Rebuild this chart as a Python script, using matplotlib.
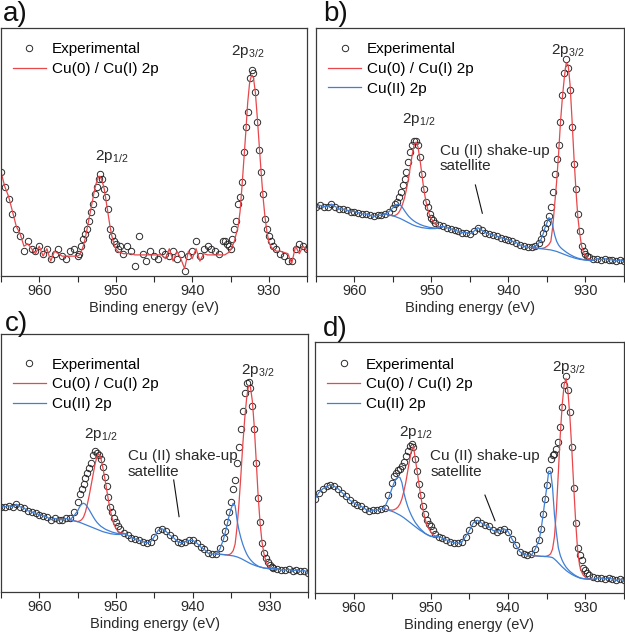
import numpy as np
import matplotlib
matplotlib.use('Agg')
import matplotlib.pyplot as plt
from matplotlib.ticker import MultipleLocator

plt.rcParams['font.family'] = ['Liberation Sans', 'DejaVu Sans']
plt.rcParams['mathtext.default'] = 'regular'

RED = '#e8474b'
BLUE = '#3f7fd6'
DARK = '#2a2a2a'

# binding energy grid (eV), finer steps across the two 2p peaks
energy = np.concatenate([np.arange(965, 954.9, -0.5), np.arange(954.75, 949.4, -0.25),
                         np.arange(949, 935.9, -0.5), np.arange(935.75, 929.4, -0.25),
                         np.arange(929, 924.9, -0.5)])
# regions where the Cu(II) / Cu(0) components are drawn (956-949 and 937-929 eV)
reg1 = (energy <= 956) & (energy >= 949)
reg2 = (energy <= 937) & (energy >= 929)

# ---- a) ----
a_exp = [42, 36, 31, 25, 19, 16, 10, 14, 11, 10, 12, 9, 11, 7, 9, 11, 8, 7, 10, 11, 8,
         9, 12, 15, 17, 19, 22, 26, 29, 33, 36, 39, 41, 39, 35, 32, 27, 19, 16, 14, 13, 11, 12,
         9, 12, 10, 4, 16, 9, 6, 10, 8, 7, 10, 9, 8, 10, 7, 9, 2, 8, 10, 14, 8, 11, 12, 11, 10, 9, 14,
         14, 13, 12, 11, 15, 19, 22, 29, 32, 38, 50, 60, 66, 80, 83, 82, 74, 62, 51, 42, 33, 23, 19, 16, 14, 12,
         11, 9, 8, 6, 6, 11, 13, 12, 11]
a_red = [42, 36, 32, 26, 20, 17, 12, 13, 11, 9, 12, 8, 11, 6, 10, 9, 8, 8, 8, 8, 8,
         8.5, 10, 12, 15, 19, 23, 27, 31, 35, 38, 40, 40, 38, 35, 30, 25, 20, 16, 13, 11, 10, 9.5,
         9, 9, 9, 8.5, 8.5, 8.5, 8.5, 8.5, 8.5, 8.5, 8.5, 7, 11, 6, 10, 7, 3, 10, 7, 11, 6, 9, 8.5, 8.5, 8.5, 8.5, 8.5,
         8.5, 9, 9.5, 10.5, 12, 14, 17, 20, 26, 36, 47, 58, 70, 78, 81, 80, 74, 64, 53, 42, 32, 24, 18, 14, 12, 11,
         10, 10, 9.5, 9, 5, 12, 9, 12, 10]

# ---- b) ----
b_exp = [28, 28.5, 28, 28, 29, 28, 27, 27, 26.5, 26, 26, 25.5, 25, 25, 24.5, 24, 24.5, 24.5, 25, 26, 27.5,
         29, 30, 32, 34, 36.5, 39, 42, 46, 50, 53, 54.5, 54.5, 53, 48, 41, 35, 30, 28, 25, 23.5, 22.5, 21.5,
         20.5, 20, 19.5, 19, 18.5, 18, 17.5, 17.5, 17, 18, 19.5, 18.5, 17.5, 17, 16.5, 16, 15.5, 15, 14.5, 14,
         13.5, 12.5, 12, 11.5, 11.5, 12, 13.5,
         15, 17.5, 19.5, 21.5, 24, 28, 34, 41, 47, 53, 62, 73, 82, 87.5, 84, 75, 60, 45, 35, 25, 18, 12, 10, 9, 8, 7.5,
         7, 7, 6.5, 7, 6.5, 6.5, 6, 6.5, 6]
b_cu2_1 = [25, 26, 27.5, 28.3, 28.8, 29, 28.5, 27.5, 26.3, 25.2, 24.2, 23.4, 22.7, 22.1, 21.6, 21.2, 20.8,
           20.5, 20.2, 20, 19.8, 19.6, 19.5, 19.4, 19.3, 19.8]
b_bg1 = [25, 24.6, 24.2, 24, 23.7, 23.4, 23.1, 22.7, 22.3, 21.9, 21.5, 21.1, 20.7, 20.4, 20.1, 19.9, 19.7,
         19.5, 19.4, 19.3, 19.2, 19.1, 19.1, 19.1, 19.1, 19.4]
b_red1 = [25, 24.6, 24.3, 24.4, 24.8, 25.6, 27, 29, 31.5, 35, 39, 44, 49, 53, 54, 52, 47, 41, 35, 30.5,
          27, 24.5, 23, 21.8, 20.8, 19.8]
b_cu2_2 = [11.5, 12, 13.5, 15, 17, 19.5, 21.5, 23.5, 23, 20, 16.5, 14, 12.5, 11.5, 10.8, 10.2, 9.6, 9.1,
           8.6, 8.2, 7.8, 7.5, 7.2, 7, 6.8, 6.6, 6.5, 6.4, 6.4, 6.3]
b_bg2 = [11.5, 11.3, 11.1, 11, 10.9, 10.8, 10.7, 10.6, 10.5, 10.3, 10.1, 9.9, 9.6, 9.3, 9, 8.7, 8.4, 8.1,
         7.8, 7.6, 7.3, 7.1, 6.9, 6.7, 6.6, 6.5, 6.4, 6.3, 6.3, 6.3]
b_red2 = [11.5, 11.3, 11.1, 11.1, 11.2, 11.5, 12, 12.7, 14, 20, 29, 38, 49, 62, 72, 80, 86, 85, 77, 63,
          48, 35, 24, 17, 12, 9.5, 8, 7.2, 6.8, 6.4]

# ---- c) ----
c_exp = [33, 33, 33.5, 33, 34, 33, 32.5, 31.5, 31, 30.5, 30, 29.5, 29, 28, 28.5, 28, 28, 28.5, 28.5, 31, 35,
         38, 40, 42, 44, 46, 48, 50, 53, 54.5, 54, 53, 51.5, 48.5, 44.7, 41, 37, 33, 31, 28.5, 27, 25.5, 24.5,
         22.7, 22, 21, 20.5, 20, 19.5, 19, 19.5, 21.5, 24, 24.5, 23.5, 22, 21, 19.5, 19, 19.5, 20, 20, 19,
         17.5, 16.5, 15, 14.7, 14.7, 17, 21,
         23.5, 27, 31, 35, 40, 43.5, 50, 56, 63, 70, 77, 81, 81.5, 79, 72, 63, 50, 36.5, 27, 19, 15, 13, 11.5,
         10.5, 9.8, 9.2,
         9, 8.5, 8.5, 8.8, 8.2, 8.5, 8, 8.3, 7.5]
c_cu2_1 = [28, 29.5, 31.5, 33, 34, 34.4, 34, 33, 31.8, 30.5, 29.2, 28, 27, 26.2, 25.5, 25, 24.5, 24.1,
           23.8, 23.5, 23.2, 23, 22.8, 22.7, 22.6, 22.7]
c_bg1 = [28, 27.6, 27.2, 27, 26.7, 26.4, 26.1, 25.8, 25.5, 25.2, 24.9, 24.6, 24.3, 24, 23.7, 23.4, 23.2,
         23, 22.8, 22.6, 22.5, 22.4, 22.3, 22.3, 22.3, 22.5]
c_red1 = [28, 27.6, 27.3, 27.5, 28, 29, 31, 34, 37.5, 41.5, 45.5, 49.5, 52.5, 53.5, 52, 48.5, 44.5, 40,
          35.5, 31.5, 28.5, 26, 24.5, 23.5, 23, 22.7]
c_cu2_2 = [14.7, 16.5, 20.5, 23.5, 26.5, 30, 32.5, 34.4, 33.5, 28, 24, 21, 18.5, 16.5, 14.8, 13.5, 12.5,
           11.7, 11, 10.5, 10, 9.7, 9.5, 9.3, 9.2, 9.1, 9, 9, 9, 9]
c_bg2 = [14.7, 14.6, 14.5, 14.4, 14.3, 14.2, 14.1, 14, 13.8, 13.6, 13.3, 13, 12.6, 12.2, 11.8, 11.4, 11,
         10.7, 10.4, 10.1, 9.9, 9.7, 9.5, 9.3, 9.2, 9.1, 9, 9, 9, 9]
c_red2 = [14.7, 14.6, 14.5, 14.4, 14.4, 14.5, 15, 16, 18.5, 25, 34, 45, 57, 67, 75, 80, 79.5, 74, 64, 51,
          37.5, 27, 19.5, 15, 12, 10.5, 9.6, 9.2, 9, 9]

# ---- d) ----
d_exp = [37.5, 40, 41.5, 42.5, 43, 42.5, 41.5, 40, 38.5, 37, 36, 35, 34.5, 33.5, 32.5, 33, 33, 33.5, 34, 39, 44,
         46.5, 48, 49, 49.5, 50.5, 52, 54.5, 56.5, 58.5, 59.5, 58, 53.5, 48.5, 43.5, 39, 34.5, 31.5, 29, 27.5,
         26.5, 25, 23.5,
         22.5, 21.8, 21.2, 20.5, 20, 19.8, 20.2, 22.5, 25, 28, 29, 28, 27, 26.5, 25, 24.5, 25, 25.5, 24.5, 21.5,
         19, 16.5, 15.5, 15, 15.5, 17.5, 21,
         25.5, 31.5, 37.5, 43, 49, 53.5, 55, 55.5, 57.5, 60, 66, 74, 83, 86.5, 81, 72, 58, 42, 28, 18, 15, 13,
         10, 9, 8, 7.2,
         6.5, 6, 6, 5.5, 6, 5.5, 5, 5.5, 5]
d_cu2_1 = [34, 37.5, 42, 44, 45.5, 46.2, 46, 44, 40, 37, 34.5, 32.5, 30.8, 29.3, 28, 27, 26, 25.2, 24.5,
           23.8, 23.3, 22.9, 22.6, 22.5, 22.4, 22.5]
d_bg1 = [33.5, 33, 32.5, 32.2, 31.8, 31.4, 31, 30.5, 30, 29.4, 28.8, 28.2, 27.6, 27, 26.4, 25.8, 25.2,
         24.7, 24.2, 23.7, 23.3, 22.9, 22.6, 22.4, 22.3, 22.5]
d_red1 = [33.5, 33.2, 33, 33.2, 33.6, 34.3, 35.5, 37.5, 40.5, 44, 48.5, 53, 57, 58.5, 53, 48, 42.5, 37.5,
          33, 29.5, 27, 25.5, 24.3, 23.3, 22.8, 22.5]
d_cu2_2 = [15, 17.5, 21, 25, 30.5, 36.5, 42, 48.5, 48.5, 42, 31, 24, 18, 15, 13, 11.5, 10.3, 9.4, 8.6,
           8, 7.4, 6.9, 6.5, 6.1, 5.9, 5.7, 5.6, 5.5, 5.5, 5.4]
d_bg2 = [15, 14.8, 14.7, 14.6, 14.6, 14.5, 14.5, 14.4, 14.3, 14.1, 13.5, 12.8, 12, 11.2, 10.4, 9.7, 9,
         8.4, 7.9, 7.4, 7, 6.6, 6.3, 6, 5.8, 5.7, 5.6, 5.5, 5.5, 5.4]
d_red2 = [15, 14.8, 14.7, 14.6, 14.6, 14.6, 14.7, 15, 15.6, 17.5, 22.5, 33, 48, 63, 75, 83, 85.5, 80, 70,
          57, 42, 28, 17, 11, 8.5, 7, 6.3, 5.8, 5.5, 5.4]

labels = ['Experimental', 'Cu(0) / Cu(I) 2p', 'Cu(II) 2p']


def style(ax):
    ax.set_xlim(965, 925)
    ax.set_ylim(0, 100)
    ax.xaxis.set_major_locator(MultipleLocator(10))
    ax.xaxis.set_minor_locator(MultipleLocator(5))
    ax.tick_params(axis='x', which='both', direction='out', length=4, width=0.8,
                   colors=DARK, labelsize=10.5, pad=2, top=False)
    ax.tick_params(axis='y', left=False, labelleft=False)
    for s in ax.spines.values():
        s.set_color('#3a3a3a')
        s.set_linewidth(0.9)
    ax.set_xlabel('Binding energy (eV)', fontsize=10.5, labelpad=2, color=DARK)


def draw(ax, exp, red, comps=None, legend_y=0.942):
    ax.plot(energy, exp, 'o', ms=4.6, mfc='none', mec=DARK, mew=0.7, label=labels[0])
    if comps is None:
        ax.plot(energy, red, color=RED, lw=0.9, label=labels[1])
    else:
        cu2_1, bg1, red1, cu2_2, bg2, red2 = comps
        blue = np.array(exp, dtype=float)
        blue[reg1] = cu2_1
        blue[reg2] = cu2_2
        ax.plot(energy[reg1], red1, color=RED, lw=0.9, label=labels[1])
        ax.plot(energy[reg2], red2, color=RED, lw=0.9)
        ax.plot(energy, blue, color=BLUE, lw=0.9, label=labels[2])
        ax.plot(energy[reg1], bg1, color=BLUE, lw=0.9)
        ax.plot(energy[reg2], bg2, color=BLUE, lw=0.9)
    ax.legend(loc='upper left', bbox_to_anchor=(0.038, legend_y), frameon=False, fontsize=11,
              borderpad=0, borderaxespad=0, handlelength=2.2, handletextpad=0.35,
              labelspacing=0.37)
    style(ax)


def shakeup(ax, tx, ty, p0, p1):
    ax.text(tx, ty, 'Cu (II) shake-up\nsatellite', fontsize=11, ha='left', va='center',
            linespacing=1.15, color=DARK)
    ax.plot([p0[0], p1[0]], [p0[1], p1[1]], color='#111111', lw=0.8)


fig = plt.figure(figsize=(6.25, 6.33), dpi=100)
ax_a = fig.add_axes([1 / 625, 0.564, 306 / 625, 0.3918])
ax_b = fig.add_axes([316 / 625, 0.564, 308 / 625, 0.3918])
ax_c = fig.add_axes([1 / 625, 0.0648, 307 / 625, 0.4076])
ax_d = fig.add_axes([315 / 625, 0.0632, 309 / 625, 0.3965])

draw(ax_a, a_exp, a_red)
draw(ax_b, b_exp, None, (b_cu2_1, b_bg1, b_red1, b_cu2_2, b_bg2, b_red2))
draw(ax_c, c_exp, None, (c_cu2_1, c_bg1, c_red1, c_cu2_2, c_bg2, c_red2), legend_y=0.908)
draw(ax_d, d_exp, None, (d_cu2_1, d_bg1, d_red1, d_cu2_2, d_bg2, d_red2), legend_y=0.938)

pk = dict(fontsize=11, ha='center', va='center', color=DARK)
ax_a.text(950.5, 48, '2p$_{1/2}$', **pk)
ax_a.text(932.7, 90.7, '2p$_{3/2}$', **pk)
ax_b.text(951.7, 63, '2p$_{1/2}$', **pk)
ax_b.text(932.3, 91, '2p$_{3/2}$', **pk)
ax_c.text(952.0, 61.2, '2p$_{1/2}$', **pk)
ax_c.text(931.6, 85.7, '2p$_{3/2}$', **pk)
ax_d.text(952.0, 64.1, '2p$_{1/2}$', **pk)
ax_d.text(932.2, 90, '2p$_{3/2}$', **pk)

shakeup(ax_b, 948.9, 47.4, (944.3, 36.7), (943.4, 25.3))
shakeup(ax_c, 948.5, 49.6, (942.5, 43.4), (941.8, 29.2))
shakeup(ax_d, 950.1, 51.4, (943.0, 39.0), (941.7, 28.8))

for lab, x, y in [('a)', 0.004, 0.978), ('b)', 0.517, 0.978), ('c)', 0.007, 0.488), ('d)', 0.517, 0.480)]:
    fig.text(x, y, lab, fontsize=20, ha='left', va='center', color='#111111')

fig.savefig('out.png', dpi=100)
